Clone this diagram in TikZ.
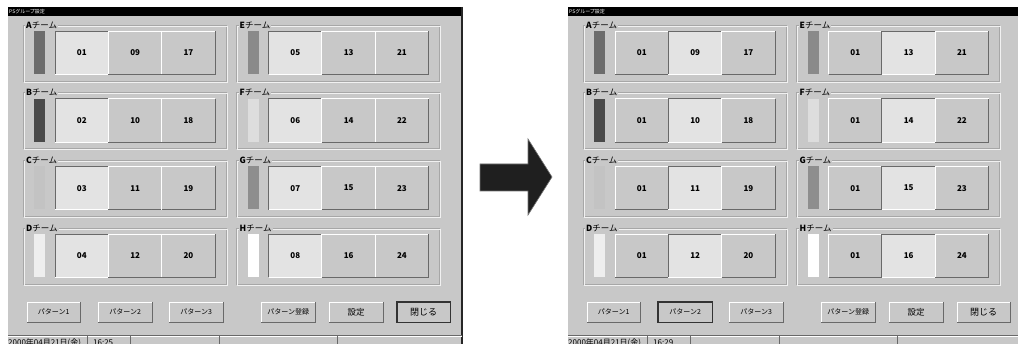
\documentclass[tikz,border=0pt]{standalone}
\usepackage{fontspec}
\newfontfamily\jp{Noto Sans CJK JP}
\definecolor{winbg}{HTML}{C8C8C8}
\definecolor{selcell}{HTML}{E3E3E3}
\definecolor{barA}{HTML}{6C6C6C}
\definecolor{barB}{HTML}{4A4A4A}
\definecolor{barC}{HTML}{C3C3C3}
\definecolor{barD}{HTML}{EEEEEE}
\definecolor{barE}{HTML}{8A8A8A}
\definecolor{barF}{HTML}{DDDDDD}
\definecolor{barG}{HTML}{8E8E8E}
\definecolor{barH}{HTML}{FFFFFF}
\definecolor{shadowcol}{HTML}{696969}
\tikzset{
	hilite/.style={draw=white,line width=0.8pt},
	shadow/.style={draw=shadowcol,line width=0.8pt},
	cell/.style={fill=#1,minimum width=53.3pt,minimum height=43pt,inner sep=0pt,anchor=north west,font=\jp\bfseries\fontsize{8}{8}\selectfont},
	button/.style={fill=winbg,minimum height=20pt,inner sep=0pt,anchor=north west},
	teamlabel/.style={fill=winbg,inner sep=1pt,anchor=west,font=\jp\fontsize{8.5}{8.5}\selectfont},
	statustext/.style={inner sep=0pt,anchor=west,font=\jp\fontsize{8}{8}\selectfont}
}
\begin{document}
\begin{tikzpicture}[x=1pt,y=-1pt]
				\clip (0,0) rectangle (1018,344)
				;
				\fill[white] (0,0) rectangle (1018,344)
				;
				% the two windows, before and after
				\foreach \p/\ox/\sel/\clock/\dbtn in {L/0/1/16:25/6, R/560/2/16:29/2} {
				\begin{scope}[xshift=\ox pt]
				\fill[winbg] (8,7) rectangle (463,344)
				;
				\fill[black] (8,7) rectangle (463,16)
				;
				\node[inner sep=0pt,anchor=west,text=white,font=\jp\fontsize{5}{5}\selectfont] (\p-title) at (9,11.5) {PSグループ設定}
				;
				\draw[black!85,line width=1.5pt] (462.2,7)--(462.2,344)
				;
				\foreach \tn/\cl/\rw/\bc/\na/\nb/\nc in {A/0/0/barA/01/09/17, B/0/1/barB/02/10/18, C/0/2/barC/03/11/19, D/0/3/barD/04/12/20, E/1/0/barE/05/13/21, F/1/1/barF/06/14/22, G/1/2/barG/07/15/23, H/1/3/barH/08/16/24} {
				\begin{scope}[shift={(213.5*\cl,67.7*\rw)}]
				\draw[shadowcol!35!winbg,line width=0.6pt] (23,25) rectangle (226,81)
				;
				\draw[white!75!winbg,line width=0.6pt] (24,26) rectangle (227,82)
				;
				\node[teamlabel] (\p-\tn-lab) at (25,25) {{\bfseries\tn}チーム}
				;
				\fill[\bc] (34,31) rectangle (45,74)
				;
				\foreach \j/\txt in {1/\na, 2/\nb, 3/\nc} {
				\ifnum\j=\sel \def\cf{selcell}\def\tl{shadow}\def\br{hilite}\else \def\cf{winbg}\def\tl{hilite}\def\br{shadow}\fi
				\node[cell=\cf] (\p-\tn-\j) at (1.7+53.3*\j,31) {\ifnum\j=1 \ifnum\sel=2 01\else\txt\fi\else\txt\fi}
				;
				\draw[\tl] (\p-\tn-\j.south west) |- (\p-\tn-\j.north east)
				;
				\draw[\br] (\p-\tn-\j.south west) -| (\p-\tn-\j.north east)
				;
				}
				\end{scope}
				}
				% buttons
				\foreach \b/\bx/\bw/\bt/\fs in {1/27/53/パターン1/7, 2/98/54/パターン2/7, 3/169/54/パターン3/7, 4/261/54/パターン登録/7, 5/329/54/設定/8.5, 6/397/53/閉じる/9} {
				\node[button,minimum width=\bw pt,font=\jp\fontsize{\fs}{\fs}\selectfont] (\p-btn\b) at (\bx,302) {\bt}
				;
				\draw[hilite] (\p-btn\b.south west) |- (\p-btn\b.north east)
				;
				\draw[shadow] (\p-btn\b.south west) -| (\p-btn\b.north east)
				;
				\ifnum\b=\dbtn \draw[black!80,line width=1.2pt] (\p-btn\b.south west) rectangle (\p-btn\b.north east); \fi
				}
				% status bar
				\draw[shadow] (8,335)--(462,335)
				;
				\draw[hilite] (8,336.2)--(462,336.2)
				;
				\foreach \sx in {87,130,219,337} \draw[shadow] (\sx,336)--(\sx,344)
				;
				\node[statustext] (\p-date) at (8,342.5) {2000年04月21日(金)}
				;
				\node[statustext] (\p-time) at (93,342.5) {\clock}
				;
				\end{scope}
				}
				% arrow between the windows
				\fill[black!88,draw=black!55,line width=0.6pt] (480,164)--(528,164)--(528,139)--(552,177)--(528,215)--(528,191)--(480,191)--cycle
				;
\end{tikzpicture}
\end{document}
